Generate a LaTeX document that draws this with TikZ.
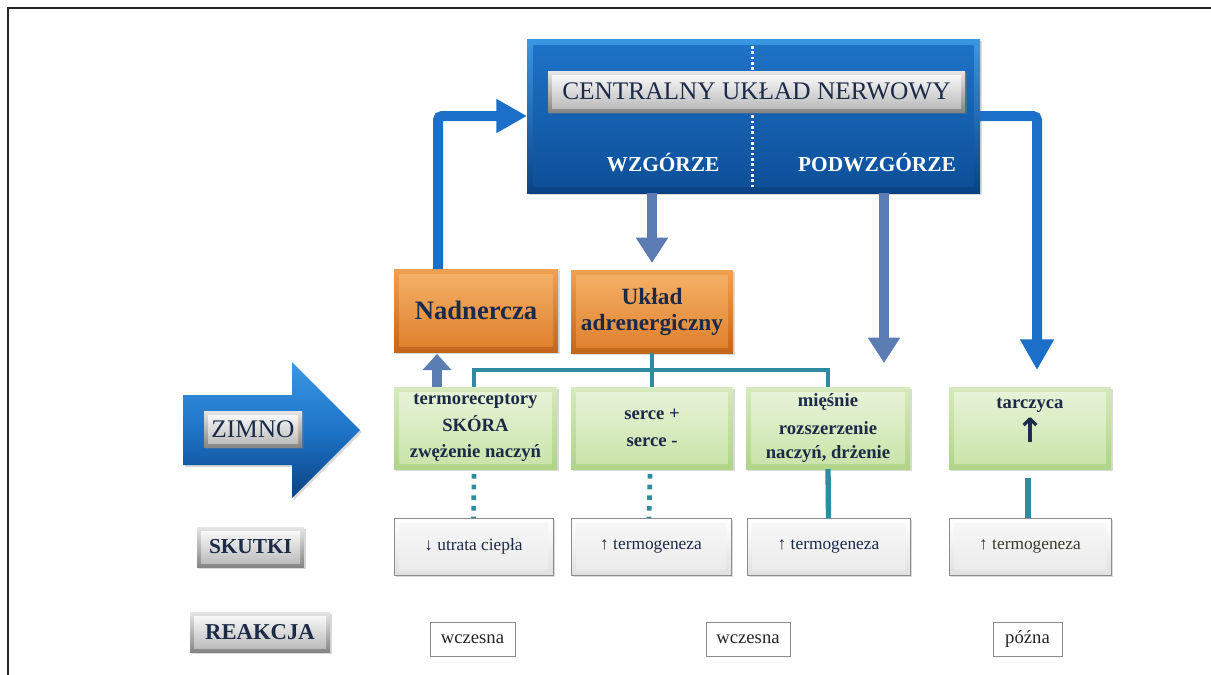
\documentclass[tikz,border=0pt]{standalone}
\usepackage{fontspec}
\setmainfont{Liberation Serif}
\newfontfamily\arrowfont{DejaVu Sans}
\usetikzlibrary{arrows.meta,shadows,calc,fit}
\definecolor{navy}{HTML}{1C2A48}
\definecolor{bluearr}{HTML}{1B6FC6}
\definecolor{greyblue}{HTML}{5C7DB4}
\definecolor{tealc}{HTML}{2F8BA0}
\definecolor{gA}{HTML}{D6EABD}
\definecolor{gB}{HTML}{AFD487}
\definecolor{gC}{HTML}{E8F4DA}
\definecolor{gD}{HTML}{C8E3A7}
\definecolor{oA}{HTML}{F0A050}
\definecolor{oB}{HTML}{C2661C}
\definecolor{oC}{HTML}{F6B36A}
\definecolor{oD}{HTML}{DD7E2A}
\definecolor{bA}{HTML}{3B97E3}
\definecolor{bB}{HTML}{0A4283}
\definecolor{bC}{HTML}{1E74C8}
\definecolor{bD}{HTML}{0D4E97}
\definecolor{sA}{HTML}{E6E6E6}
\definecolor{sB}{HTML}{858585}
\definecolor{sC}{HTML}{FFFFFF}
\definecolor{sD}{HTML}{B5B5B5}
\definecolor{olive}{HTML}{3A3A2C}
\tikzset{
  bx/.style={rectangle, inner sep=0pt, outer sep=0pt},
  txt/.style={align=center, text=navy, inner sep=0pt},
  bevel/.style n args={3}{path picture={\shade[top color=#1,bottom color=#2]
      ($(path picture bounding box.north west)+(#3,-#3)$) rectangle
      ($(path picture bounding box.south east)+(-#3,#3)$);}},
  shd/.style={drop shadow={opacity=0.3, shadow xshift=1.5pt, shadow yshift=-1.5pt}},
  greenbox/.style={bx, shd, top color=gA, bottom color=gB, bevel={gC}{gD}{4pt}},
  gtxt/.style={txt, font=\bfseries\fontsize{14pt}{18pt}\selectfont},
  orangebox/.style={bx, shd, top color=oA, bottom color=oB, bevel={oC}{oD}{4pt}},
  bluebox/.style={bx, shd, top color=bA, bottom color=bB, bevel={bC}{bD}{5pt}},
  silver/.style={bx, shd, top color=sA, bottom color=sB, bevel={sC}{sD}{3pt}},
  greybox/.style={bx, shd, draw=black!45, line width=0.6pt, top color=white, bottom color=black!12,
      bevel={black!3}{black!8}{4pt}},
  stxt/.style={txt, font=\fontsize{13pt}{15pt}\selectfont},
  whitebox/.style={bx, draw=black!45, line width=0.6pt, fill=white},
  wtxt/.style={txt, text=black!85, font=\fontsize{14pt}{16pt}\selectfont},
  bigblue/.style={bluearr, line width=7.5pt, rounded corners=3pt,
      -{Triangle[length=23pt,width=24pt]}},
  gbarrow/.style={greyblue, line width=7.5pt, -{Triangle[length=19pt,width=23pt]}},
  tealline/.style={tealc, line width=3pt},
  tealdots/.style={tealc, line width=3.5pt, dash pattern=on 3.5pt off 4.5pt},
}
\begin{document}
\begin{tikzpicture}[x=0.75pt,y=-0.75pt]
\useasboundingbox (0,0) rectangle (1211,675);
\draw[black!85, line width=1.2pt] (8,675) -- (8,8) -- (1211,8);

% central nervous system
\node[bluebox, fit={(527,39)(980,193)}] (cns) {};
\draw[white, line width=1.6pt, dash pattern=on 2pt off 2pt] ($(cns.north)+(-1,7)$) -- ($(cns.south)+(-1,-5)$);
\node[silver, fit={(548,71)(965,112)}] (cnsbar) {};
\node[txt, font=\fontsize{19pt}{21pt}\selectfont] (cnstitle) at (cnsbar.center) {CENTRALNY UKŁAD NERWOWY};
\node[txt, font=\bfseries\fontsize{16pt}{18pt}\selectfont, text=white] (wzg) at (663,163) {WZGÓRZE};
\node[txt, font=\bfseries\fontsize{16pt}{18pt}\selectfont, text=white] (podw) at (877,163) {PODWZGÓRZE};

% orange boxes
\node[orangebox, fit={(394,269)(558,352)}] (nad) {};
\node[txt, font=\bfseries\fontsize{20pt}{22pt}\selectfont] (nadt) at (nad.center) {Nadnercza};
\node[orangebox, fit={(571,270)(733,353)}] (ua) {};
\node[txt, font=\bfseries\fontsize{17.5pt}{19.5pt}\selectfont] (uat) at (ua.center) {Układ\\adrenergiczny};

% green boxes
\node[greenbox, fit={(394,387)(557,469)}] (term) {};
\node[gtxt] (termt) at (term.center) {termoreceptory\\[2pt]SKÓRA\\[2pt]zwężenie naczyń};
\node[greenbox, fit={(571,387)(733,469)}] (ser) {};
\node[gtxt] (sert) at (ser.center) {serce +\\[2pt]serce -};
\node[greenbox, fit={(746,387)(910,469)}] (mie) {};
\node[gtxt] (miet) at (mie.center) {mięśnie\\[3pt]rozszerzenie\\naczyń, drżenie};
\node[greenbox, fit={(949,387)(1111,469)}] (tar) {};
\node[gtxt, anchor=north] (tart) at ($(tar.north)+(0,11)$) {tarczyca\\[3pt]{\arrowfont\bfseries\fontsize{25pt}{25pt}\selectfont ↑}};

% ZIMNO arrow
\shade[top color=bA, bottom color=bB, middle color=bC, drop shadow={opacity=0.3, shadow xshift=1.5pt, shadow yshift=-1.5pt}]
  (183,395) -- (292,395) -- (292,362) -- (360,430) -- (292,498) -- (292,465) -- (183,465) -- cycle;
\node[silver, fit={(204,411)(302,447)}] (zimno) {};
\node[txt, font=\fontsize{19pt}{21pt}\selectfont] (zimnot) at (zimno.center) {ZIMNO};

% skutki row
\node[greybox, fit={(394,518)(553,575)}] (sk1) {};
\node[stxt] (sk1t) at (sk1.center) {↓ utrata ciepła};
\node[greybox, fit={(571,518)(731,575)}] (sk2) {};
\node[stxt] (sk2t) at (sk2.center) {↑ termogeneza};
\node[greybox, fit={(747,518)(910,575)}] (sk3) {};
\node[stxt] (sk3t) at (sk3.center) {↑ termogeneza};
\node[greybox, fit={(949,518)(1111,575)}] (sk4) {};
\node[stxt, text=olive] (sk4t) at (sk4.center) {↑ termogeneza};
\node[silver, fit={(197,527)(304,567)}] (skutki) {};
\node[txt, font=\bfseries\fontsize{16pt}{18pt}\selectfont] (skutkit) at (skutki.center) {SKUTKI};

% reakcja row
\node[silver, fit={(190,612)(330,652)}] (reakcja) {};
\node[txt, font=\bfseries\fontsize{17pt}{19pt}\selectfont] (reakcjat) at (reakcja.center) {REAKCJA};
\node[whitebox, fit={(430,622)(515,656)}] (r1) {};
\node[wtxt] (r1t) at (r1.center) {wczesna};
\node[whitebox, fit={(706,622)(790,656)}] (r2) {};
\node[wtxt] (r2t) at (r2.center) {wczesna};
\node[whitebox, fit={(993,622)(1062,656)}] (r3) {};
\node[wtxt] (r3t) at (r3.center) {późna};

% big blue arrows
\draw[bigblue] ($(nad.north west)+(44,0)$) |- (cns.west);
\coordinate (tartip) at ($(tar.north)+(7,-17)$);
\draw[bigblue] (cns.east) -| (tartip);

% grey-blue arrows
\draw[gbarrow] (ua.north |- cns.south) -- ($(ua.north)+(0,-7)$);
\coordinate (mietip) at ($(mie.north)+(56,-24)$);
\draw[gbarrow] (mietip |- cns.south) -- (mietip);
\draw[greyblue, line width=7.5pt, -{Triangle[length=12pt,width=21pt]}] ($(term.north west)+(43,0)$) -- ($(nad.south west)+(43,2)$);

% teal connectors
\draw[tealline] ($(term.north west)+(80,0)$) -- ++(0,-17) -| (mie.north);
\draw[tealline] (ua.south) -- (ser.north);
\draw[tealdots] ($(term.south west)+(80,5)$) -- (sk1.north);
\draw[tealdots] ($(ser.south)+(-2,5)$) -- ($(sk2.north)+(-2,0)$);
\draw[tealline, line width=4pt] (mie.south) -- (sk3.north);
\draw[tealline, line width=4pt] ($(tar.south)+(-2,9)$) -- ($(sk4.north)+(-2,0)$);
\end{tikzpicture}
\end{document}
